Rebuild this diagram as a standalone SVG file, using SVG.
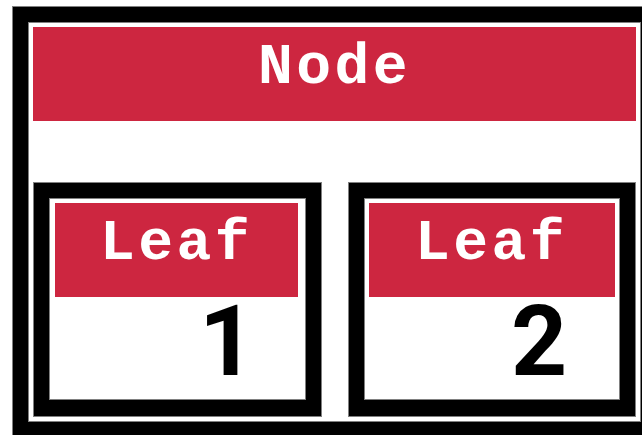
<svg xmlns="http://www.w3.org/2000/svg" width="642" height="435" viewBox="0 0 642 435">
<style>
.frame{fill:#000;stroke:#808080;stroke-width:1}
.inner{fill:#fff;stroke:#808080;stroke-width:1}
.hdr{fill:#cd2640}
.title{font-family:"Liberation Mono","Courier New",monospace;font-weight:bold;font-size:58px;letter-spacing:3.5px;fill:#fff;text-anchor:middle}
.num{font-family:Roboto,"Liberation Sans",Arial,sans-serif;font-weight:bold;font-size:98px;fill:#000}
</style>
<rect width="642" height="435" fill="#fff"/>
<g id="node">
<rect class="frame" x="12.5" y="6.5" width="640" height="440"/>
<rect class="inner" x="28.5" y="22.5" width="612" height="399"/>
<rect class="hdr" x="33" y="27" width="603" height="94"/>
<text class="title" x="334.5" y="83">Node</text>
</g>
<g id="leaf1">
<rect class="frame" x="33.5" y="182.5" width="288" height="234"/>
<rect class="inner" x="49.5" y="198.5" width="256" height="201"/>
<rect class="hdr" x="55" y="203" width="243" height="94"/>
<text class="title" x="176.5" y="259">Leaf</text>
<text class="num" x="199" y="375">1</text>
</g>
<g id="leaf2">
<rect class="frame" x="348.5" y="182.5" width="287" height="234"/>
<rect class="inner" x="364.5" y="198.5" width="255" height="201"/>
<rect class="hdr" x="369" y="203" width="246" height="94"/>
<text class="title" x="491.5" y="259">Leaf</text>
<text class="num" x="511" y="375">2</text>
</g>
<g id="connectors"></g>
</svg>
